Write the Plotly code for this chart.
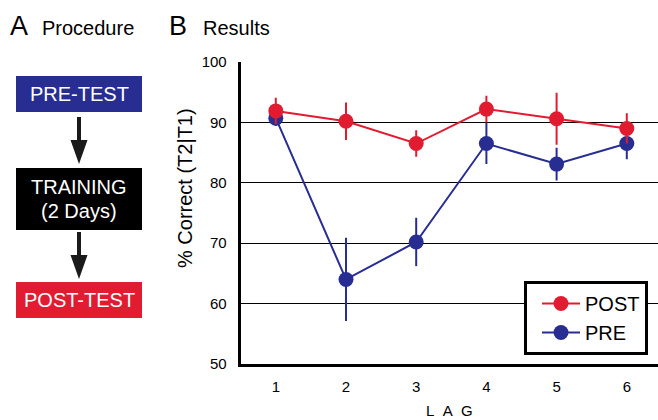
import plotly.graph_objects as go

# ---- data ----
lags = [1, 2, 3, 4, 5, 6]
post_vals = [91.9, 90.2, 86.5, 92.2, 90.6, 89.0]
post_err = [2.2, 3.1, 2.2, 2.2, 4.3, 2.5]
pre_vals = [90.7, 64.0, 70.2, 86.5, 83.1, 86.5]
pre_err = [1.3, 6.9, 4.0, 3.4, 2.7, 2.6]
y_ticks = [50, 60, 70, 80, 90, 100]
x_ticks = [1, 2, 3, 4, 5, 6]

RED = "rgb(226,28,48)"
BLUE = "rgb(40,45,146)"
FONT = "Liberation Sans, Arial, Helvetica, sans-serif"

W, H = 658, 420


def px(x):
    return x / W


def py(y):
    return 1 - y / H


fig = go.Figure()

fig.add_trace(go.Scatter(
    x=lags, y=pre_vals, name="PRE", mode="lines+markers",
    line=dict(color=BLUE, width=2),
    marker=dict(color=BLUE, size=15),
    error_y=dict(type="data", array=pre_err, color=BLUE, thickness=2, width=0),
))
fig.add_trace(go.Scatter(
    x=lags, y=post_vals, name="POST", mode="lines+markers",
    line=dict(color=RED, width=2),
    marker=dict(color=RED, size=15),
    error_y=dict(type="data", array=post_err, color=RED, thickness=2, width=0),
))

x_left, x_step = 240.7, 70.2
x_right_val = 0.5 + (W - x_left) / x_step

shapes = []
annotations = []

# Procedure boxes
boxes = [
    (76, 112, BLUE),
    (168, 230, "black"),
    (282, 318, RED),
]
for y0, y1, c in boxes:
    shapes.append(dict(type="rect", xref="paper", yref="paper",
                       x0=px(16), x1=px(142), y0=py(y1), y1=py(y0),
                       fillcolor=c, line=dict(width=0), layer="above"))

# arrows
for s0, s1, h0, h1 in [(117, 142, 140, 164), (232, 257, 255, 279)]:
    shapes.append(dict(type="line", xref="paper", yref="paper",
                       x0=px(79), x1=px(79), y0=py(s0), y1=py(s1),
                       line=dict(color="#1a1a1a", width=4)))
    path = f"M {px(70.5)} {py(h0)} L {px(87.5)} {py(h0)} L {px(79)} {py(h1)} Z"
    shapes.append(dict(type="path", xref="paper", yref="paper", path=path,
                       fillcolor="#1a1a1a", line=dict(width=0)))

box_texts = [
    ("PRE-TEST", 94),
    ("TRAINING", 187),
    ("(2 Days)", 211),
    ("POST-TEST", 300),
]
for t, yc in box_texts:
    annotations.append(dict(text=t, xref="paper", yref="paper",
                            x=px(79), y=py(yc), xanchor="center", yanchor="middle",
                            showarrow=False, font=dict(color="white", size=20, family=FONT)))

# panel labels
annotations += [
    dict(text="A", x=px(8), y=py(26), xanchor="left", yanchor="middle",
         font=dict(size=27, color="black", family=FONT)),
    dict(text="Procedure", x=px(40), y=py(28), xanchor="left", yanchor="middle",
         font=dict(size=20, color="black", family=FONT)),
    dict(text="B", x=px(167), y=py(26), xanchor="left", yanchor="middle",
         font=dict(size=27, color="black", family=FONT)),
    dict(text="Results", x=px(201), y=py(28), xanchor="left", yanchor="middle",
         font=dict(size=20, color="black", family=FONT)),
    dict(text="% Correct (T2|T1)", x=px(185), y=py(188), xanchor="center", yanchor="middle",
         textangle=-90, font=dict(size=20, color="black", family=FONT)),
    dict(text="L\u00a0\u00a0A\u00a0\u00a0G", x=px(450), y=py(410), xanchor="center", yanchor="middle",
         font=dict(size=15, color="black", family=FONT)),
]
for a in annotations:
    a.setdefault("xref", "paper")
    a.setdefault("yref", "paper")
    a["showarrow"] = False

fig.update_layout(
    width=W, height=H,
    margin=dict(l=0, r=0, t=0, b=0, pad=0, autoexpand=False),
    paper_bgcolor="white", plot_bgcolor="white",
    font=dict(family=FONT, color="black"),
    shapes=shapes, annotations=annotations,
    showlegend=True,
    legend=dict(
        x=px(524), y=py(281), xanchor="left", yanchor="top",
        bgcolor="white", bordercolor="black", borderwidth=3,
        font=dict(size=20, color="black", family=FONT),
        traceorder="reversed", itemwidth=38, indentation=10,
    ),
    xaxis=dict(
        domain=[px(x_left), 1], range=[0.5, x_right_val],
        tickvals=x_ticks, ticktext=[str(v) for v in x_ticks],
        showgrid=False, zeroline=False, automargin=False,
        showline=True, linecolor="black", linewidth=3,
        ticks="", ticklabelstandoff=7,
        tickfont=dict(size=15, color="black", family=FONT),
    ),
    yaxis=dict(
        domain=[py(364), py(62)], range=[50, 100],
        tickvals=y_ticks, ticktext=[str(v) for v in y_ticks],
        showgrid=True, gridcolor="black", gridwidth=1, zeroline=False, automargin=False,
        showline=True, linecolor="black", linewidth=3,
        ticks="", ticklabelstandoff=8,
        tickfont=dict(size=15, color="black", family=FONT),
    ),
)

# pin the figure to the page's top-left corner so it fills the window exactly
pin = (
    "document.documentElement.style.margin='0';"
    "document.body.style.margin='0';"
    "document.body.style.overflow='hidden';"
    "var d=document.getElementById('{plot_id}');"
    "d.style.position='absolute';d.style.left='0px';d.style.top='0px';"
)

fig.write_html("out.html", post_script=pin, config={"displayModeBar": False})
